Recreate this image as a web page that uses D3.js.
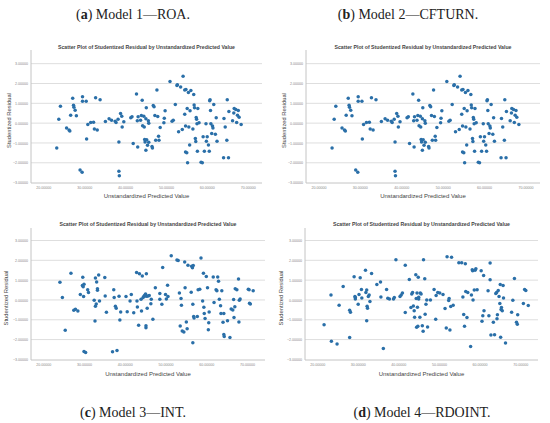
<!DOCTYPE html>
<html>
<head>
<meta charset="utf-8">
<script src="https://cdn.jsdelivr.net/npm/d3@7"></script>
<style>
  body { margin: 0; background: #fff; }
  svg { display: block; }
</style>
</head>
<body>
<svg width="550" height="423"></svg>
<script>
// Model 1 (ROA) - predicted value / studentized residual
var xA = [23.3,23.8,24.2,25.7,26.3,26.5,26.7,27.2,27.4,27.5,27.8,28.1,29.0,29.5,29.6,29.6,30.5,30.6,30.9,31.6,
  32.3,32.5,32.8,33.2,33.9,35.2,36.1,36.7,37.6,37.8,38.3,38.5,38.5,38.6,38.9,39.2,39.3,39.7,41.4,41.7,
  42.0,42.8,43.0,43.1,43.2,43.8,44.0,44.2,44.3,44.6,44.7,44.8,44.9,45.1,45.1,45.2,45.3,45.5,45.7,45.8,
  45.8,46.6,46.7,46.9,47.1,47.3,47.5,47.8,48.0,48.2,48.3,48.6,49.5,49.6,49.8,51.0,51.5,51.8,52.3,52.7,
  52.8,53.1,53.6,54.0,54.2,54.6,54.6,54.8,54.9,54.8,55.1,55.2,55.3,55.5,55.6,55.8,55.9,56.1,56.6,56.8,
  56.9,57.0,57.2,57.3,57.4,57.5,57.6,57.7,57.8,58.1,58.6,58.9,59.1,59.4,59.8,59.9,60.1,60.4,60.6,60.7,
  60.8,60.9,61.0,61.2,61.4,61.5,61.7,62.1,62.3,62.5,64.1,64.2,64.5,64.9,65.0,65.3,65.4,66.3,66.6,66.7,
  67.1,67.3,67.5,67.7,67.9,68.4];
var yA = [-1.25,0.2,0.85,-0.25,-0.35,-0.4,0.4,1.25,0.9,0.8,0.65,0.37,-2.36,-2.48,1.33,1.1,1.1,-0.8,-0.07,0.03,
  0.05,-0.3,1.28,-0.35,1.18,0.08,0.22,0.15,0.1,0.03,0.19,-0.95,-2.43,-2.65,0.49,0.35,-0.2,0.07,0.27,0.32,
  -1.03,1.47,0.12,-1.2,0.32,0.15,0.39,1.16,-0.13,0.35,-0.2,-0.83,-0.95,0.22,-1.37,0.78,-0.84,-1.11,0.12,-0.96,
  0,-1.18,-1.26,0.89,0.83,0.39,-0.86,1.67,0.34,-0.66,-0.86,-0.22,0.02,0.25,0.62,2.1,0.1,0.15,0.94,1.9,
  1.94,-0.44,1.82,-0.32,2.36,0.45,1.67,-0.15,1.7,-1.45,-1.5,0.74,-2.0,1.55,-0.2,-1.1,0.62,1.65,-0.3,1.45,
  0.91,0.78,-0.78,-0.93,0.29,0.2,-0.03,-1.42,0.74,0.02,-1.97,-2.0,-0.69,-1.42,-0.03,-0.91,-0.69,-1.1,-1.42,1.13,
  1.18,0.64,-0.03,-0.52,-0.15,-0.25,0.94,-0.56,0.27,-0.91,-1.75,0.24,-0.2,-0.86,1.18,-1.75,0.59,0.12,0.51,0.74,
  0.69,0.03,0.4,0.64,0.3,-0.07];

// Model 2 (CFTURN) - same plot as model 1 in the source
var xB = [23.3,23.8,24.2,25.7,26.3,26.5,26.7,27.2,27.4,27.5,27.8,28.1,29.0,29.5,29.6,29.6,30.5,30.6,30.9,31.6,
  32.3,32.5,32.8,33.2,33.9,35.2,36.1,36.7,37.6,37.8,38.3,38.5,38.5,38.6,38.9,39.2,39.3,39.7,41.4,41.7,
  42.0,42.8,43.0,43.1,43.2,43.8,44.0,44.2,44.3,44.6,44.7,44.8,44.9,45.1,45.1,45.2,45.3,45.5,45.7,45.8,
  45.8,46.6,46.7,46.9,47.1,47.3,47.5,47.8,48.0,48.2,48.3,48.6,49.5,49.6,49.8,51.0,51.5,51.8,52.3,52.7,
  52.8,53.1,53.6,54.0,54.2,54.6,54.6,54.8,54.9,54.8,55.1,55.2,55.3,55.5,55.6,55.8,55.9,56.1,56.6,56.8,
  56.9,57.0,57.2,57.3,57.4,57.5,57.6,57.7,57.8,58.1,58.6,58.9,59.1,59.4,59.8,59.9,60.1,60.4,60.6,60.7,
  60.8,60.9,61.0,61.2,61.4,61.5,61.7,62.1,62.3,62.5,64.1,64.2,64.5,64.9,65.0,65.3,65.4,66.3,66.6,66.7,
  67.1,67.3,67.5,67.7,67.9,68.4];
var yB = [-1.25,0.2,0.85,-0.25,-0.35,-0.4,0.4,1.25,0.9,0.8,0.65,0.37,-2.36,-2.48,1.33,1.1,1.1,-0.8,-0.07,0.03,
  0.05,-0.3,1.28,-0.35,1.18,0.08,0.22,0.15,0.1,0.03,0.19,-0.95,-2.43,-2.65,0.49,0.35,-0.2,0.07,0.27,0.32,
  -1.03,1.47,0.12,-1.2,0.32,0.15,0.39,1.16,-0.13,0.35,-0.2,-0.83,-0.95,0.22,-1.37,0.78,-0.84,-1.11,0.12,-0.96,
  0,-1.18,-1.26,0.89,0.83,0.39,-0.86,1.67,0.34,-0.66,-0.86,-0.22,0.02,0.25,0.62,2.1,0.1,0.15,0.94,1.9,
  1.94,-0.44,1.82,-0.32,2.36,0.45,1.67,-0.15,1.7,-1.45,-1.5,0.74,-2.0,1.55,-0.2,-1.1,0.62,1.65,-0.3,1.45,
  0.91,0.78,-0.78,-0.93,0.29,0.2,-0.03,-1.42,0.74,0.02,-1.97,-2.0,-0.69,-1.42,-0.03,-0.91,-0.69,-1.1,-1.42,1.13,
  1.18,0.64,-0.03,-0.52,-0.15,-0.25,0.94,-0.56,0.27,-0.91,-1.75,0.24,-0.2,-0.86,1.18,-1.75,0.59,0.12,0.51,0.74,
  0.69,0.03,0.4,0.64,0.3,-0.07];

// Model 3 (INT)
var xC = [24.1,24.7,25.4,26.8,27.5,27.9,28.5,29.1,29.6,29.7,29.8,29.9,30.0,30.0,30.4,30.9,31.1,32.5,32.7,32.8,
  32.8,33.0,33.1,33.3,33.3,33.6,33.8,35.1,35.2,35.5,37.0,37.3,37.4,37.7,37.9,38.1,38.6,38.8,39.0,40.3,
  40.6,41.3,41.6,42.2,42.9,43.0,43.1,43.4,43.6,44.0,44.1,44.3,44.5,44.7,44.9,45.0,45.1,45.2,45.2,45.3,
  45.4,45.5,45.7,46.0,46.4,46.5,46.9,47.5,48.6,48.6,49.3,49.1,50.0,50.2,50.5,50.6,51.4,52.8,53.1,53.4,
  53.6,53.8,53.9,54.1,54.5,54.7,54.8,55.1,55.3,55.5,56.3,56.4,56.6,56.7,56.8,57.0,56.7,56.9,57.8,58.0,
  58.4,58.7,59.1,59.3,59.4,59.5,59.7,60.0,60.3,60.5,60.6,60.7,61.7,61.9,62.4,62.6,62.8,63.0,63.2,63.5,
  63.6,63.8,64.1,64.3,64.3,64.4,65.2,65.8,66.1,66.5,66.7,66.8,67.0,67.1,67.5,67.9,68.0,68.1,68.3,70.3,
  70.5,70.6,70.8,71.5];
var yC = [0.89,0.12,-1.53,1.35,-0.52,-0.47,-0.56,0.27,0.73,1.15,0.66,0.17,0.79,-2.6,-2.65,0.51,0.37,-0.02,-1.06,-0.32,
  1.11,-0.2,0.91,0.49,0.57,1.26,-0.05,1.13,0.2,-0.62,-2.61,0.51,0.12,-0.32,-0.42,-2.55,0.19,-1.01,-0.61,0.17,
  -0.59,-0.05,0.27,-0.64,1.38,-0.05,-0.35,-1.28,1.32,0.03,-0.56,1.21,0.12,0.19,0.24,0.2,0.3,-1.4,-1.3,1.32,
  0.19,-0.42,0.2,0.22,-0.19,0.03,-0.98,0.61,0.03,0.32,1.64,-0.22,0.27,0.05,0.74,0.17,2.23,2.02,1.99,0.35,
  -1.32,0.07,-0.27,-1.57,-1.62,1.91,0.62,-1.11,-1.45,1.75,0.39,1.7,1.62,-0.22,1.74,-0.91,-2.16,-0.83,-0.84,0.52,
  0.54,2.12,-0.05,1.35,-0.37,-0.69,-0.93,1.18,0.61,-1.5,-1.15,-0.61,1.16,-0.13,0.52,0.46,1.16,0.94,0.03,-0.29,
  -0.69,0.47,-1.13,-0.69,-1.74,-1.85,-1.05,-1.9,-0.46,-0.51,0.02,-0.89,-0.34,0.57,0.51,1.06,-1.11,-0.02,0.05,0.54,
  0.51,-0.17,-0.2,0.46];

// Model 4 (RDOINT)
var xD = [21.7,23.4,23.5,24.9,25.4,26.4,28.0,28.2,28.0,29.1,29.3,29.4,29.4,30.1,30.3,30.6,30.9,31.0,31.9,32.0,
  32.2,32.2,32.3,32.4,32.6,32.8,33.0,33.4,34.7,35.6,35.7,36.3,37.1,37.4,37.8,38.8,39.0,39.4,40.4,40.7,
  41.0,41.7,41.7,42.7,43.1,43.3,43.5,43.7,43.9,44.0,44.3,44.4,44.5,44.6,44.7,44.8,44.9,45.0,45.0,45.3,
  45.4,45.6,45.9,46.1,46.2,46.5,46.6,46.8,47.0,47.2,47.9,48.8,49.2,49.3,49.7,50.2,51.0,51.5,51.8,52.0,
  52.4,52.5,52.7,52.9,53.1,53.5,54.9,55.6,55.9,56.1,56.3,56.5,56.6,56.9,57.1,57.8,58.0,58.2,58.3,58.4,
  58.7,58.9,59.1,59.4,60.4,60.6,60.8,61.0,61.1,62.1,62.3,62.6,62.6,62.8,63.4,63.7,64.0,64.2,64.3,64.4,
  64.6,64.8,65.0,65.1,65.2,65.3,65.4,65.6,65.8,65.9,66.4,67.9,68.2,68.6,69.1,69.3,69.4,70.8,71.1,71.4,
  72.0];
var yD = [-1.25,0.25,-2.08,-2.22,-0.27,0.68,-0.52,-0.62,-1.9,1.17,0.17,0.05,0.12,-0.22,0.27,1.12,0.53,0.1,1.5,0.38,
  0.5,-1.05,-0.32,-0.42,0.17,0.25,-0.08,1.33,0.78,0.9,0.15,-2.45,0.53,0.08,0.05,0.05,0.12,2.03,0.17,0.25,
  0.35,1.75,-0.63,1.03,-0.38,0.3,0.37,-0.3,-0.55,-0.87,1.27,0.07,-1.38,0.35,-0.37,-1.33,1.15,0.05,0.13,-0.87,
  0.35,0.3,-1.3,-1.58,2.03,1.07,-0.72,-0.22,0,-1.37,0,0.53,-0.97,0.23,0.38,0.35,0.28,-0.43,-1.42,2.18,
  -0.03,0.07,-1.52,-0.33,2.15,-0.27,1.88,1.88,0.15,-0.73,-1.33,1.82,0.43,-0.88,0.37,-2.35,0.25,1.52,1.47,0,
  0.5,1.5,1.57,0.52,1.47,-1.08,-0.8,1.23,-0.55,0.47,-0.8,1.87,1.02,-1.77,-1.12,-1.75,0.32,0.38,-0.95,-0.75,
  0.48,0.17,-0.18,0.78,-1.88,-0.48,-0.38,-0.55,0.73,0.1,-2.17,-0.62,-0.02,1.08,-1.12,-1.23,-0.75,-0.18,0.53,0.48,
  -0.28];

var yTicks = [-3, -2, -1, 0, 1, 2, 3];
var xTicks = [20, 30, 40, 50, 60, 70];

var plotTitle = 'Scatter Plot of Studentized Residual by Unstandardized Predicted Value';
var xTitle = 'Unstandardized Predicted Value';
var yTitle = 'Studentized Residual';

var panels = [
  {letter: 'a', cap: 'Model 1\u2014ROA.', xs: xA, ys: yA, l: 31, r: 262, t: 50, b: 183, xd: [17, 73.5], yd: [-3.02, 3.69], titleY: 48.5, xlabY: 197.5, ylabX: 11, capX: 133, capY: 19},
  {letter: 'b', cap: 'Model 2\u2014CFTURN.', xs: xB, ys: yB, l: 306, r: 540, t: 50, b: 183, xd: [17, 73.5], yd: [-3.02, 3.69], titleY: 48.5, xlabY: 197.5, ylabX: 286, capX: 408, capY: 19},
  {letter: 'c', cap: 'Model 3\u2014INT.', xs: xC, ys: yC, l: 31, r: 265, t: 228, b: 360, xd: [17, 74.4], yd: [-3.03, 3.63], titleY: 225.5, xlabY: 375.5, ylabX: 8, capX: 133, capY: 417},
  {letter: 'd', cap: 'Model 4\u2014RDOINT.', xs: xD, ys: yD, l: 305, r: 538, t: 228, b: 360, xd: [17, 74.4], yd: [-3.03, 3.63], titleY: 225.5, xlabY: 375.5, ylabX: 283, capX: 422, capY: 417}
];

var svg = d3.select('svg');
var fmt = d3.format('.5f');

panels.forEach(function(p) {
  var x = d3.scaleLinear().domain(p.xd).range([p.l, p.r]);
  var y = d3.scaleLinear().domain(p.yd).range([p.b, p.t]);
  var g = svg.append('g');

  // caption
  var cap = g.append('text')
    .attr('x', p.capX).attr('y', p.capY)
    .attr('text-anchor', 'middle')
    .style('font-family', '"Liberation Serif", serif')
    .style('font-size', '14px')
    .style('fill', '#222');
  cap.append('tspan').text('(');
  cap.append('tspan').style('font-weight', 'bold').text(p.letter);
  cap.append('tspan').text(') ' + p.cap);

  // gridlines
  g.selectAll('.grid')
    .data(yTicks.filter(function(d) { return d > -3; }))
    .enter().append('line')
    .attr('x1', p.l).attr('x2', p.r)
    .attr('y1', function(d) { return y(d); })
    .attr('y2', function(d) { return y(d); })
    .attr('stroke', '#dedede')
    .attr('stroke-width', 1);

  // axes
  var ya = g.append('g')
    .attr('transform', 'translate(' + p.l + ',0)')
    .call(d3.axisLeft(y).tickValues(yTicks).tickFormat(fmt).tickSize(0).tickPadding(3));
  var xa = g.append('g')
    .attr('transform', 'translate(0,' + p.b + ')')
    .call(d3.axisBottom(x).tickValues(xTicks).tickFormat(fmt).tickSize(0).tickPadding(3));
  [ya, xa].forEach(function(a) {
    a.select('.domain').attr('stroke', '#c4c4c4');
    a.selectAll('text')
      .style('font-family', 'Arial, "Liberation Sans", sans-serif')
      .style('font-size', '3.6px')
      .style('fill', '#888');
  });
  // axis lines span the whole frame
  ya.select('.domain').attr('d', 'M0,' + p.t + 'V' + p.b);
  xa.select('.domain').attr('d', 'M' + p.l + ',0H' + p.r);

  // plot title
  g.append('text')
    .attr('x', (p.l + p.r) / 2).attr('y', p.titleY)
    .attr('text-anchor', 'middle')
    .style('font-family', 'Arial, "Liberation Sans", sans-serif')
    .style('font-size', '5.2px')
    .style('font-weight', 'bold')
    .style('fill', '#444')
    .text(plotTitle);

  // axis titles
  g.append('text')
    .attr('x', (p.l + p.r) / 2).attr('y', p.xlabY)
    .attr('text-anchor', 'middle')
    .style('font-family', 'Arial, "Liberation Sans", sans-serif')
    .style('font-size', '6px')
    .style('fill', '#444')
    .text(xTitle);
  g.append('text')
    .attr('transform', 'translate(' + p.ylabX + ',' + ((p.t + p.b) / 2 + 4) + ') rotate(-90)')
    .attr('text-anchor', 'middle')
    .style('font-family', 'Arial, "Liberation Sans", sans-serif')
    .style('font-size', '5.8px')
    .style('fill', '#444')
    .text(yTitle);

  // points
  g.selectAll('.dot')
    .data(p.xs.map(function(v, i) { return [v, p.ys[i]]; }))
    .enter().append('circle')
    .attr('cx', function(d) { return x(d[0]); })
    .attr('cy', function(d) { return y(d[1]); })
    .attr('r', 1.75)
    .attr('fill', '#2a6fa8');
});
</script>
</body>
</html>
